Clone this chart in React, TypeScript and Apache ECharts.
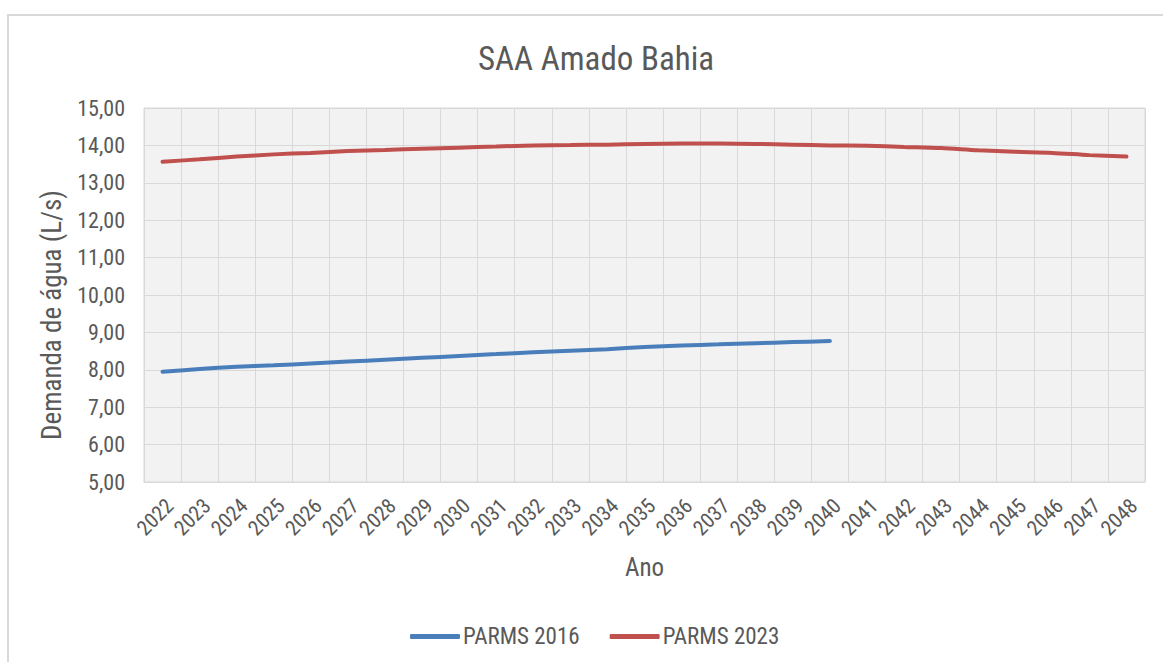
import React, { useEffect, useRef } from "react";
import * as echarts from "echarts";

const years = [
  "2022", "2023", "2024", "2025", "2026", "2027", "2028", "2029", "2030",
  "2031", "2032", "2033", "2034", "2035", "2036", "2037", "2038", "2039",
  "2040", "2041", "2042", "2043", "2044", "2045", "2046", "2047", "2048",
];

const parms2016 = [
  7.95, 8.02, 8.08, 8.12, 8.17, 8.22, 8.27, 8.32, 8.37, 8.42, 8.47, 8.51,
  8.55, 8.61, 8.65, 8.68, 8.71, 8.74, 8.77,
];

const parms2023 = [
  13.56, 13.63, 13.7, 13.76, 13.8, 13.85, 13.88, 13.91, 13.94, 13.97, 14.0,
  14.01, 14.02, 14.04, 14.05, 14.05, 14.04, 14.02, 14.0, 13.99, 13.96, 13.93,
  13.87, 13.83, 13.8, 13.74, 13.7,
];

const yTicks = { min: 5, max: 15, interval: 1 };

const FONT = "'Liberation Sans Narrow', 'Arial Narrow', 'Roboto Condensed', 'DejaVu Sans Condensed', sans-serif";
const TEXT = "#595959";

export default function App() {
  const ref = useRef<HTMLDivElement>(null);

  useEffect(() => {
    if (!ref.current) return;
    const chart = echarts.init(ref.current, null, { renderer: "svg" });
    chart.setOption({
      animation: false,
      backgroundColor: "#ffffff",
      textStyle: { fontFamily: FONT, color: TEXT },
      title: {
        text: "SAA Amado Bahia",
        left: 591,
        top: 37,
        textAlign: "center",
        textStyle: { fontFamily: FONT, fontSize: 33, fontWeight: "normal", color: TEXT },
      },
      graphic: [
        {
          type: "rect",
          shape: { x: 8, y: 15, width: 1400, height: 900 },
          style: { fill: "none", stroke: "#d9d9d9", lineWidth: 2 },
          silent: true,
        },
        {
          type: "text",
          x: 52,
          y: 315,
          rotation: Math.PI / 2,
          silent: true,
          style: {
            text: "Demanda de água (L/s)",
            fontFamily: FONT,
            fontSize: 27,
            fill: TEXT,
            align: "center",
            verticalAlign: "middle",
          },
        },
      ],
      legend: {
        left: 405,
        top: 620,
        icon: "roundRect",
        itemWidth: 50,
        itemHeight: 5,
        itemGap: 30,
        textStyle: { fontFamily: FONT, fontSize: 23, color: TEXT, padding: [0, 0, 0, -2] },
        data: ["PARMS 2016", "PARMS 2023"],
      },
      grid: {
        left: 144,
        top: 108,
        width: 1001,
        height: 374,
        show: true,
        backgroundColor: "#f2f2f2",
        borderColor: "#d9d9d9",
        borderWidth: 1,
      },
      xAxis: {
        type: "category",
        data: years,
        boundaryGap: true,
        name: "Ano",
        nameLocation: "middle",
        nameGap: 73,
        nameTextStyle: { fontFamily: FONT, fontSize: 25, color: TEXT, verticalAlign: "top" },
        axisLine: { show: true, lineStyle: { color: "#d9d9d9" } },
        axisTick: { show: false },
        splitLine: { show: true, interval: 0, lineStyle: { color: "#d9d9d9", width: 1 } },
        axisLabel: {
          interval: 0,
          rotate: 45,
          margin: 13,
          fontFamily: FONT,
          fontSize: 21,
          color: TEXT,
          align: "right",
          verticalAlign: "top",
        },
      },
      yAxis: {
        type: "value",
        min: yTicks.min,
        max: yTicks.max,
        interval: yTicks.interval,
        axisLine: { show: false },
        axisTick: { show: false },
        splitLine: { show: true, lineStyle: { color: "#d9d9d9", width: 1 } },
        axisLabel: {
          margin: 19,
          fontFamily: FONT,
          fontSize: 22,
          color: TEXT,
          formatter: (v: number) => v.toFixed(2).replace(".", ","),
        },
      },
      series: [
        {
          name: "PARMS 2016",
          type: "line",
          data: parms2016,
          smooth: 0.3,
          symbol: "none",
          showSymbol: false,
          lineStyle: { color: "#4a7ebb", width: 4, cap: "round" },
          itemStyle: { color: "#4a7ebb" },
        },
        {
          name: "PARMS 2023",
          type: "line",
          data: parms2023,
          smooth: 0.3,
          symbol: "none",
          showSymbol: false,
          lineStyle: { color: "#c0504d", width: 4, cap: "round" },
          itemStyle: { color: "#c0504d" },
        },
      ],
    });
    return () => chart.dispose();
  }, []);

  return (
    <div
      ref={ref}
      style={{ position: "absolute", left: 0, top: 0, width: 1163, height: 662 }}
    />
  );
}
